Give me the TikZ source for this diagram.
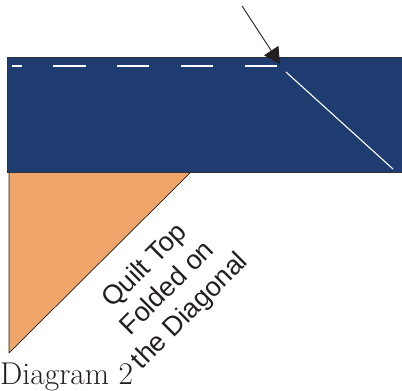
\documentclass[tikz,border=0pt]{standalone}
\usepackage{fontspec}
\newfontfamily\labelsans{Liberation Sans}
\usetikzlibrary{arrows.meta}
\definecolor{quiltblue}{RGB}{30,60,112}
\definecolor{quiltorange}{RGB}{240,166,106}
\definecolor{inkdark}{RGB}{35,31,32}
\tikzset{
  stitch/.style={white, line width=1.1pt},
  pointer/.style={inkdark, line width=0.9pt, -{Triangle[length=16pt,width=17pt]}},
}
\begin{document}
\begin{tikzpicture}[x=1pt,y=1pt]
\useasboundingbox (0,0) rectangle (402,391);
% orange folded triangle
\fill[quiltorange] (9,219) -- (191,219) -- (9,38) -- cycle;
\draw[inkdark, line width=0.7pt] (191,219) -- (9,38) -- (9,219);
% blue strip
\fill[quiltblue] (7.5,219) rectangle (402,334);
\draw[black!80, line width=0.9pt] (402,334) -- (7.5,334) -- (7.5,219) -- (402,219);
% dashed stitching
\foreach \a/\b in {12/22, 53/86, 117/149, 181/213, 245/277}
  \draw[stitch] (\a,325) -- (\b,325);
\draw[stitch] (286,319) -- (393,222);
% arrow
\coordinate (arrowstart) at (242,385);
\coordinate (arrowtip) at (280,327);
\draw[pointer] (arrowstart) -- (arrowtip);
% labels
\node (foldlabel) [inkdark, rotate=45, align=center, inner sep=0pt,
  font=\labelsans\fontsize{27}{32}\selectfont] at (168,102)
  {Quilt Top\\Folded on\\the Diagonal};
\node (caption) [inkdark, anchor=base west, inner sep=0pt,
  font=\fontsize{31.5}{36}\selectfont] at (0,6) {Diagram 2};
\end{tikzpicture}
\end{document}
